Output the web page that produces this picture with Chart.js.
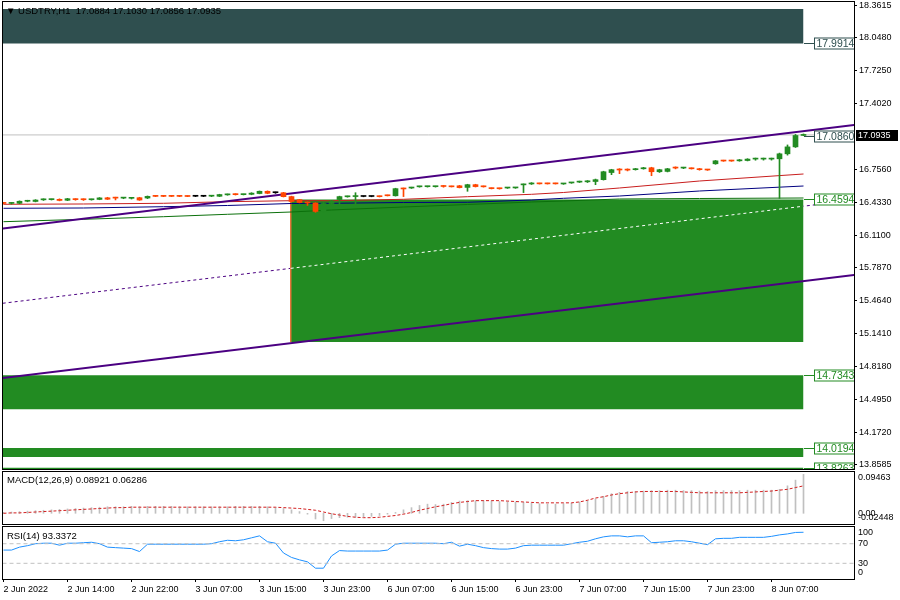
<!DOCTYPE html>
<html>
<head>
<meta charset="utf-8">
<title>USDTRY H1</title>
<script src="https://cdn.jsdelivr.net/npm/chart.js@4.4.1/dist/chart.umd.min.js"></script>
<style>
  html, body { margin: 0; padding: 0; background: #fff; }
  #wrap { position: relative; width: 900px; height: 600px; overflow: hidden; }
  #wrap canvas { position: absolute; left: 0; }
</style>
</head>
<body>
<div id="wrap">
  <canvas id="mainChart" width="900" height="471" style="top:0"></canvas>
  <canvas id="macdChart" width="900" height="56" style="top:470px"></canvas>
  <canvas id="rsiChart" width="900" height="75" style="top:525px"></canvas>
</div>
<script>
// ---- data (one value per H1 bar, bar 0 = 2 Jun 2022) ----
const timeLabels = ['2 Jun 2022', '2 Jun 14:00', '2 Jun 22:00', '3 Jun 07:00', '3 Jun 15:00', '3 Jun 23:00',
    '6 Jun 07:00', '6 Jun 15:00', '6 Jun 23:00', '7 Jun 07:00', '7 Jun 15:00', '7 Jun 23:00', '8 Jun 07:00'];
const timeLabelBars = [0, 8, 16, 24, 32, 40, 48, 56, 64, 72, 80, 88, 96];

const opens = [
    16.425, 16.421, 16.422, 16.442, 16.440, 16.456, 16.458, 16.461, 16.452, 16.461,
    16.460, 16.457, 16.460, 16.476, 16.476, 16.473, 16.471, 16.477, 16.474, 16.493,
    16.493, 16.493, 16.493, 16.492, 16.491, 16.491, 16.492, 16.491, 16.505, 16.510,
    16.507, 16.510, 16.518, 16.540, 16.526, 16.526, 16.488, 16.458, 16.432, 16.425,
    16.342, 16.420, 16.459, 16.486, 16.488, 16.489, 16.489, 16.490, 16.499, 16.496,
    16.566, 16.572, 16.584, 16.585, 16.585, 16.590, 16.587, 16.594, 16.578, 16.605,
    16.587, 16.569, 16.567, 16.572, 16.573, 16.603, 16.612, 16.616, 16.616, 16.616,
    16.612, 16.622, 16.630, 16.633, 16.636, 16.654, 16.724, 16.752, 16.752, 16.752,
    16.761, 16.771, 16.732, 16.735, 16.771, 16.768, 16.765, 16.761, 16.752, 16.810,
    16.840, 16.840, 16.839, 16.842, 16.856, 16.856, 16.856, 16.859, 16.908, 16.976,
    17.0884];
const highs = [
    16.432, 16.430, 16.446, 16.452, 16.458, 16.466, 16.463, 16.466, 16.471, 16.467,
    16.466, 16.463, 16.478, 16.481, 16.482, 16.480, 16.480, 16.481, 16.494, 16.497,
    16.497, 16.497, 16.496, 16.496, 16.494, 16.495, 16.499, 16.511, 16.513, 16.516,
    16.512, 16.526, 16.543, 16.544, 16.532, 16.530, 16.492, 16.461, 16.436, 16.428,
    16.430, 16.450, 16.492, 16.493, 16.526, 16.492, 16.492, 16.494, 16.503, 16.570,
    16.572, 16.580, 16.590, 16.590, 16.590, 16.597, 16.591, 16.598, 16.609, 16.609,
    16.592, 16.573, 16.571, 16.578, 16.579, 16.612, 16.625, 16.620, 16.620, 16.620,
    16.618, 16.628, 16.640, 16.645, 16.660, 16.737, 16.756, 16.762, 16.760, 16.765,
    16.775, 16.776, 16.756, 16.765, 16.780, 16.776, 16.770, 16.765, 16.756, 16.843,
    16.845, 16.845, 16.853, 16.860, 16.866, 16.866, 16.866, 16.915, 16.995, 17.098,
    17.1030];
const lows = [
    16.416, 16.414, 16.418, 16.437, 16.436, 16.450, 16.454, 16.446, 16.448, 16.452,
    16.450, 16.453, 16.457, 16.459, 16.455, 16.467, 16.464, 16.451, 16.468, 16.488,
    16.487, 16.488, 16.487, 16.487, 16.488, 16.488, 16.487, 16.488, 16.501, 16.503,
    16.504, 16.506, 16.515, 16.516, 16.520, 16.484, 16.436, 16.426, 16.401, 16.334,
    16.338, 16.410, 16.390, 16.482, 16.400, 16.486, 16.486, 16.484, 16.494, 16.493,
    16.488, 16.568, 16.580, 16.581, 16.581, 16.580, 16.582, 16.573, 16.540, 16.582,
    16.581, 16.563, 16.561, 16.568, 16.569, 16.527, 16.607, 16.611, 16.611, 16.611,
    16.608, 16.618, 16.626, 16.626, 16.605, 16.650, 16.703, 16.713, 16.740, 16.748,
    16.757, 16.693, 16.725, 16.730, 16.760, 16.762, 16.758, 16.747, 16.745, 16.805,
    16.834, 16.834, 16.835, 16.838, 16.845, 16.846, 16.846, 16.470, 16.895, 16.970,
    17.0856];
const closes = [
    16.421, 16.424, 16.442, 16.447, 16.454, 16.459, 16.460, 16.450, 16.467, 16.458,
    16.457, 16.460, 16.475, 16.462, 16.473, 16.476, 16.476, 16.454, 16.490, 16.490,
    16.490, 16.490, 16.490, 16.489, 16.491, 16.491, 16.495, 16.508, 16.510, 16.507,
    16.509, 16.522, 16.540, 16.520, 16.526, 16.487, 16.440, 16.430, 16.425, 16.342,
    16.420, 16.445, 16.488, 16.489, 16.490, 16.489, 16.489, 16.487, 16.496, 16.566,
    16.563, 16.576, 16.587, 16.587, 16.588, 16.587, 16.584, 16.576, 16.605, 16.586,
    16.584, 16.566, 16.565, 16.575, 16.576, 16.606, 16.616, 16.613, 16.613, 16.613,
    16.615, 16.625, 16.636, 16.636, 16.654, 16.732, 16.752, 16.749, 16.748, 16.761,
    16.771, 16.732, 16.752, 16.761, 16.768, 16.772, 16.761, 16.752, 16.749, 16.839,
    16.837, 16.837, 16.849, 16.856, 16.859, 16.859, 16.859, 16.908, 16.976, 17.088,
    17.0935];

// moving averages, read at these bars
const maBars  = [0, 10, 20, 28, 36, 41, 50, 58, 66, 70, 77, 87, 100];
const maRed   = [16.4123, 16.4152, 16.4221, 16.4379, 16.4476, 16.4476, 16.4614, 16.4869, 16.5104, 16.5281, 16.5723, 16.6410, 16.7098];
const maBlue  = [16.3730, 16.3760, 16.3887, 16.4005, 16.4201, 16.4221, 16.4300, 16.4320, 16.4545, 16.4712, 16.4937, 16.5428, 16.5919];
const maGreen = [16.2414, 16.2650, 16.2905, 16.3141, 16.3367, 16.3563, 16.3857, 16.4103, 16.4349, 16.4448, 16.4643, 16.4692, 16.4741];

// equidistant channel
const channelBars  = [-0.1, 106.4];
const channelUpper = [16.174, 17.191];
const channelLower = [14.707, 15.718];
const channelMid   = [15.4405, 16.4545];
const midOnZoneBars = [35.9, 100];
const midOnZone     = [15.7833, 16.3936];

// rectangles (supply / demand zones)
const zoneStart  = [-1, 35.9, -1, -1, -1];
const zoneEnd    = [100, 100, 100, 100, 100];
const zoneTop    = [18.3298, 16.4594, 14.7343, 14.0194, 13.8263];
const zoneBottom = [17.9914, 15.0603, 14.3994, 13.9315, 13.5000];

const tagLevels = [17.9914, 17.0860, 16.4594, 14.7343, 14.0194, 13.8263];
const priceTicks = [18.3615, 18.0480, 17.7250, 17.4020, 16.7560, 16.4330, 16.1100,
    15.7870, 15.4640, 15.1410, 14.8180, 14.4950, 14.1720, 13.8585];

const macdHist = [
    0.002, 0.003, 0.004, 0.005, 0.006, 0.007, 0.008, 0.009, 0.010, 0.011,
    0.012, 0.013, 0.014, 0.015, 0.015, 0.015, 0.016, 0.015, 0.016, 0.016,
    0.016, 0.016, 0.015, 0.015, 0.015, 0.015, 0.015, 0.015, 0.015, 0.016,
    0.016, 0.016, 0.016, 0.015, 0.013, 0.011, 0.008, 0.004, -0.002, -0.013,
    -0.017, -0.012, -0.010, -0.009, -0.009, -0.008, -0.007, -0.005, -0.002, 0.002,
    0.008, 0.013, 0.018, 0.021, 0.020, 0.021, 0.025, 0.028, 0.029, 0.029,
    0.029, 0.028, 0.027, 0.026, 0.026, 0.025, 0.023, 0.022, 0.021, 0.021,
    0.022, 0.023, 0.026, 0.029, 0.033, 0.039, 0.045, 0.048, 0.050, 0.050,
    0.051, 0.052, 0.052, 0.053, 0.053, 0.052, 0.052, 0.051, 0.050, 0.052,
    0.052, 0.052, 0.052, 0.053, 0.053, 0.053, 0.053, 0.055, 0.063, 0.076,
    0.08921];
const macdSignal = [
    0.000, 0.001, 0.001, 0.002, 0.003, 0.004, 0.005, 0.006, 0.007, 0.008,
    0.009, 0.010, 0.011, 0.012, 0.013, 0.013, 0.014, 0.014, 0.014, 0.014,
    0.014, 0.014, 0.014, 0.014, 0.014, 0.014, 0.014, 0.014, 0.014, 0.014,
    0.014, 0.014, 0.014, 0.014, 0.014, 0.013, 0.012, 0.011, 0.009, 0.007,
    0.003, -0.001, -0.004, -0.007, -0.009, -0.010, -0.010, -0.009, -0.007, -0.005,
    -0.002, 0.002, 0.007, 0.011, 0.015, 0.018, 0.022, 0.025, 0.027, 0.029,
    0.029, 0.029, 0.029, 0.028, 0.027, 0.026, 0.025, 0.024, 0.024, 0.024,
    0.024, 0.024, 0.026, 0.030, 0.035, 0.038, 0.042, 0.045, 0.047, 0.049,
    0.050, 0.050, 0.050, 0.050, 0.050, 0.049, 0.048, 0.047, 0.047, 0.047,
    0.047, 0.047, 0.047, 0.048, 0.049, 0.050, 0.051, 0.053, 0.055, 0.059,
    0.06286];
const macdTicks = [0.09463, 0.00, -0.02448];
const macdTickText = ['0.09463', '0.00', '-0.02448'];

const rsiValues = [
    57, 57, 63, 66, 70, 71, 71, 67, 71, 71,
    72, 73, 70, 63, 62, 61, 60, 54, 69, 69,
    69, 69, 69, 69, 69, 69, 70, 74, 77, 76,
    78, 82, 86, 74, 71, 51, 42, 37, 33, 20,
    20, 45, 56, 55, 55, 55, 55, 55, 57, 69,
    71, 71, 71, 71, 71, 70, 73, 65, 69, 66,
    62, 60, 59, 59, 61, 66, 67, 67, 67, 67,
    67, 70, 73, 75, 80, 84, 86, 86, 84, 86,
    86, 72, 73, 74, 76, 76, 74, 71, 68, 80,
    81, 81, 83, 83, 83, 83, 85, 88, 90, 93,
    93.3372];
const rsiLevels = [70, 30];
const rsiTicks = [100, 70, 30, 0];

// ---- styles ----
const UP = '#228B22', DOWN = '#FF4500', DOJI = '#000000';
const PURPLE = '#4B0082', DARK = '#2F4F4F';
const zoneColors = [DARK, UP, UP, UP, UP];
const tagColors = [DARK, DARK, UP, UP, UP, UP];
const FONT_FAMILY = '"Liberation Sans", Arial, "DejaVu Sans", sans-serif';
const X_MIN = -0.0625, X_MAX = 106.3125;
const SPAN = [-1, 107];

Chart.defaults.animation = false;
Chart.defaults.events = [];
Chart.defaults.font.family = FONT_FAMILY;
Chart.defaults.color = '#000';

const bars = opens.map((_, i) => i);
const candleColor = bars.map(i => closes[i] > opens[i] ? UP : (closes[i] < opens[i] ? DOWN : DOJI));
const pts = (xs, ys) => xs.map((x, k) => ({ x: x, y: ys[k] }));
const lineDs = (data, color, extra) => Object.assign({
    type: 'line', data: data, borderColor: color, borderWidth: 1,
    pointRadius: 0, fill: false, tension: 0
}, extra || {});

const noPad = (s) => { s.paddingTop = 0; s.paddingBottom = 0; s.paddingLeft = 0; s.paddingRight = 0; };
const hiddenX = { type: 'linear', min: X_MIN, max: X_MAX, offset: false, display: false };
const sideY = (min, max) => ({
    position: 'right', min: min, max: max,
    grid: { display: false }, border: { display: false }, ticks: { display: false },
    afterFit: (s) => { s.width = 46; noPad(s); }
});

// panel border
const frame = {
    id: 'frame',
    afterDraw(chart) {
        const { ctx, chartArea: a } = chart;
        ctx.save();
        ctx.strokeStyle = '#000';
        ctx.lineWidth = 1;
        ctx.strokeRect(a.left - 0.5, a.top - 0.5, a.right - a.left + 1, a.bottom - a.top + 1);
        ctx.restore();
    }
};

// text in the top-left corner of a panel
const caption = {
    id: 'caption',
    afterDraw(chart, args, opts) {
        if (!opts.text) return;
        const { ctx, chartArea: a } = chart;
        ctx.save();
        ctx.font = '9.5px ' + FONT_FAMILY;
        ctx.fillStyle = '#000';
        ctx.textBaseline = 'middle';
        ctx.fillText(opts.text, a.left + opts.dx, a.top + opts.dy);
        ctx.restore();
    }
};

// right-hand labels of the indicator panels, kept inside the panel like the terminal does
const sideLabels = {
    id: 'sideLabels',
    afterDraw(chart, args, opts) {
        if (!opts.values) return;
        const { ctx, chartArea: a, scales: { y } } = chart;
        ctx.save();
        ctx.font = '9px ' + FONT_FAMILY;
        ctx.fillStyle = '#000';
        ctx.textBaseline = 'middle';
        opts.values.forEach((v, k) => {
            const py = Math.min(Math.max(y.getPixelForValue(v), a.top + 6), a.bottom - 6);
            ctx.fillText(opts.texts[k], a.right + 4, py);
        });
        ctx.restore();
    }
};

// price tags of the objects and the current price on the axis
const priceTags = {
    id: 'priceTags',
    afterDatasetsDraw(chart) {
        const { ctx, chartArea: a, scales: { x, y } } = chart;
        const x0 = Math.round(x.getPixelForValue(zoneEnd[0]));
        const bx = x0 + 10.5;
        ctx.save();
        ctx.beginPath();
        ctx.rect(a.left, a.top, a.right - a.left, a.bottom - a.top);
        ctx.clip();
        ctx.font = '10.5px ' + FONT_FAMILY;
        ctx.textBaseline = 'middle';
        ctx.lineWidth = 1;
        tagLevels.forEach((lvl, k) => {
            const py = Math.round(y.getPixelForValue(lvl)) + 0.5;
            ctx.strokeStyle = tagColors[k];
            ctx.beginPath();
            ctx.moveTo(x0, py);
            ctx.lineTo(bx, py);
            ctx.stroke();
            ctx.fillStyle = '#fff';
            ctx.fillRect(bx, py - 5.5, a.right - bx + 2, 11);
            ctx.strokeRect(bx, py - 5.5, a.right - bx + 2, 11);
            ctx.fillStyle = tagColors[k];
            ctx.fillText(lvl.toFixed(4), bx + 2, py + 0.5);
        });
        ctx.restore();
    },
    afterDraw(chart) {
        const { ctx, chartArea: a, scales: { y } } = chart;
        const last = closes[closes.length - 1];
        const py = Math.round(y.getPixelForValue(last));
        ctx.save();
        ctx.fillStyle = '#000';
        ctx.fillRect(a.right + 2, py - 5, 42, 11);
        ctx.font = '9px ' + FONT_FAMILY;
        ctx.fillStyle = '#fff';
        ctx.textBaseline = 'middle';
        ctx.fillText(last.toFixed(4), a.right + 4, py + 0.5);
        ctx.restore();
    }
};

// ---- main price panel ----
const n = bars.length - 1;
const headerText = '\u25BC USDTRY,H1  ' + [opens[n], highs[n], lows[n], closes[n]].map(v => v.toFixed(4)).join(' ');

const mainDatasets = [
    lineDs(pts(channelBars, channelMid), PURPLE, { borderDash: [3, 3], order: 110 }),
    ...zoneTop.map((top, k) => ({
        type: 'line',
        data: [{ x: zoneStart[k], y: top }, { x: zoneEnd[k], y: top }],
        borderWidth: 0, borderColor: 'rgba(0,0,0,0)', backgroundColor: zoneColors[k],
        fill: { value: zoneBottom[k] }, pointRadius: 0, order: 100
    })),
    lineDs([{ x: zoneStart[1], y: zoneTop[1] }, { x: zoneStart[1], y: zoneBottom[1] }], '#E8743B', { order: 90 }),
    lineDs(pts(midOnZoneBars, midOnZone), '#ffffff', { borderDash: [3, 3], order: 80 }),
    lineDs(pts(SPAN, [closes[n], closes[n]]), '#C0C0C0', { order: 75 }),
    lineDs(pts(maBars, maGreen), '#0B700B', { order: 62 }),
    lineDs(pts(maBars, maBlue), '#000080', { order: 61 }),
    lineDs(pts(maBars, maRed), '#C81E1E', { order: 60 }),
    lineDs(pts(channelBars, channelUpper), PURPLE, { borderWidth: 2, order: 50 }),
    lineDs(pts(channelBars, channelLower), PURPLE, { borderWidth: 2, order: 50 }),
    {
        type: 'bar',
        data: bars.map(i => ({ x: i, y: [lows[i], highs[i]] })),
        backgroundColor: candleColor, barThickness: 1, grouped: false, order: 11
    },
    {
        type: 'bar',
        data: bars.map(i => ({ x: i, y: [opens[i], closes[i]] })),
        backgroundColor: candleColor, barThickness: 5, minBarLength: 1, grouped: false, order: 10
    }
];

new Chart(document.getElementById('mainChart').getContext('2d'), {
    type: 'bar',
    data: { datasets: mainDatasets },
    options: {
        responsive: false,
        layout: { padding: { left: 3, top: 2, right: 0, bottom: 2 } },
        scales: {
            x: hiddenX,
            y: {
                position: 'right', min: 13.8133, max: 18.3985,
                grid: { drawOnChartArea: false, drawTicks: true, tickLength: 3, color: '#000' },
                border: { display: true, color: '#000' },
                ticks: { autoSkip: false, padding: 2, font: { size: 9 }, callback: v => v.toFixed(4) },
                afterBuildTicks: (s) => { s.ticks = priceTicks.map(v => ({ value: v })); },
                afterFit: (s) => { s.width = 46; noPad(s); }
            }
        },
        plugins: {
            legend: { display: false },
            tooltip: { enabled: false },
            caption: { text: headerText, dx: 3, dy: 9 }
        }
    },
    plugins: [priceTags, frame, caption]
});

// ---- MACD panel ----
new Chart(document.getElementById('macdChart').getContext('2d'), {
    type: 'bar',
    data: {
        datasets: [
            {
                type: 'bar',
                data: bars.map(i => ({ x: i, y: macdHist[i] })),
                backgroundColor: '#C0C0C0', barThickness: 1, grouped: false, order: 2
            },
            lineDs(bars.map(i => ({ x: i, y: macdSignal[i] })), '#D21E1E', { borderDash: [3, 2], order: 1 })
        ]
    },
    options: {
        responsive: false,
        layout: { padding: { left: 3, top: 2, right: 0, bottom: 2 } },
        scales: { x: hiddenX, y: sideY(-0.02448, 0.09463) },
        plugins: {
            legend: { display: false },
            tooltip: { enabled: false },
            caption: { text: 'MACD(12,26,9) ' + macdHist[n].toFixed(5) + ' ' + macdSignal[n].toFixed(5), dx: 4, dy: 8 },
            sideLabels: { values: macdTicks, texts: macdTickText }
        }
    },
    plugins: [frame, caption, sideLabels]
});

// ---- RSI panel with the time axis ----
new Chart(document.getElementById('rsiChart').getContext('2d'), {
    type: 'line',
    data: {
        datasets: [
            ...rsiLevels.map(v => lineDs(pts(SPAN, [v, v]), '#C0C0C0', { borderDash: [4, 3] })),
            lineDs(bars.map(i => ({ x: i, y: rsiValues[i] })), '#1E90FF')
        ]
    },
    options: {
        responsive: false,
        layout: { padding: { left: 3, top: 2, right: 0, bottom: 0 } },
        scales: {
            x: {
                type: 'linear', min: X_MIN, max: X_MAX, offset: false,
                grid: { drawOnChartArea: false, drawTicks: true, tickLength: 3, color: '#000' },
                border: { display: true, color: '#000' },
                ticks: {
                    autoSkip: false, maxRotation: 0, align: 'start', padding: 2, font: { size: 9 },
                    callback: v => { const k = timeLabelBars.indexOf(v); return k < 0 ? '' : timeLabels[k]; }
                },
                afterBuildTicks: (s) => { s.ticks = timeLabelBars.map(v => ({ value: v })); },
                afterFit: (s) => { s.height = 21; noPad(s); }
            },
            y: sideY(-2.04, 104.1)
        },
        plugins: {
            legend: { display: false },
            tooltip: { enabled: false },
            caption: { text: 'RSI(14) ' + rsiValues[n].toFixed(4), dx: 4, dy: 9 },
            sideLabels: { values: rsiTicks, texts: rsiTicks.map(String) }
        }
    },
    plugins: [frame, caption, sideLabels]
});
</script>
</body>
</html>
